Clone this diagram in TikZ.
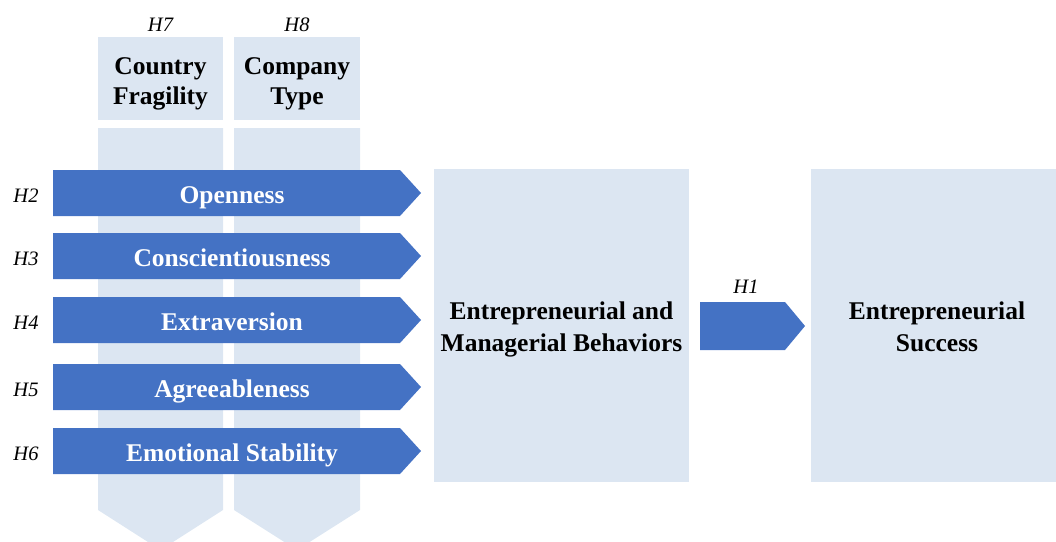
\documentclass[tikz,border=0pt]{standalone}
\usepackage{fontspec}
\setmainfont{Liberation Serif}
\definecolor{paleblue}{HTML}{DCE6F2}
\definecolor{barblue}{HTML}{4472C4}

\begin{document}
\begin{tikzpicture}[x=1pt, y=-1pt,
  boxtext/.style={font=\bfseries\fontsize{25.5}{30}\selectfont, align=center, text=black},
  bigtext/.style={font=\bfseries\fontsize{25.5}{32}\selectfont, align=center, text=black},
  bartext/.style={font=\bfseries\fontsize{25.5}{30}\selectfont, text=white},
  hyp/.style={font=\itshape\fontsize{20.5}{24}\selectfont, text=black}]

\useasboundingbox (0,0) rectangle (1056,541);
\clip (0,0) rectangle (1056,541);

% Moderator columns (heads and chevron bodies)
\fill[paleblue] (98,37) rectangle (223,120);
\fill[paleblue] (234,37) rectangle (360,120);
\fill[paleblue] (98,128) -- (223,128) -- (223,510) -- (160.5,550) -- (98,510) -- cycle;
\fill[paleblue] (234,128) -- (360,128) -- (360,510) -- (297,550) -- (234,510) -- cycle;

\node[boxtext] (fragility) at (160.5,84) {Country\\Fragility};
\node[boxtext] (comptype) at (297,84) {Company\\Type};
\node[hyp, anchor=base] (h7) at (160.5,31) {H7};
\node[hyp, anchor=base] (h8) at (297,31) {H8};

% Personality traits
\foreach \mid/\name/\lab/\hyp in {193/open/Openness/H2, 256/consc/Conscientiousness/H3,
    320/extra/Extraversion/H4, 387/agree/Agreeableness/H5, 451/emot/Emotional Stability/H6} {
  \fill[barblue] (53,\mid-23) -- (400,\mid-23) -- (421,\mid) -- (400,\mid+23) -- (53,\mid+23) -- cycle;
  \node[bartext, anchor=base] (\name) at (232,\mid+10) {\lab};
  \node[hyp, anchor=base] (h-\name) at (26,\mid+9) {\hyp};
}

% Behaviors and success
\fill[paleblue] (434,169) rectangle (689,482);
\node[bigtext] (behav) at (561.5,329) {Entrepreneurial and\\Managerial Behaviors};

\fill[barblue] (700,302) -- (785,302) -- (805,326) -- (785,350) -- (700,350) -- cycle;
\node[hyp, anchor=base] (h1) at (746,293) {H1};

\fill[paleblue] (811,169) rectangle (1056,482);
\node[bigtext] (success) at (937,327) {Entrepreneurial\\Success};

\end{tikzpicture}
\end{document}
